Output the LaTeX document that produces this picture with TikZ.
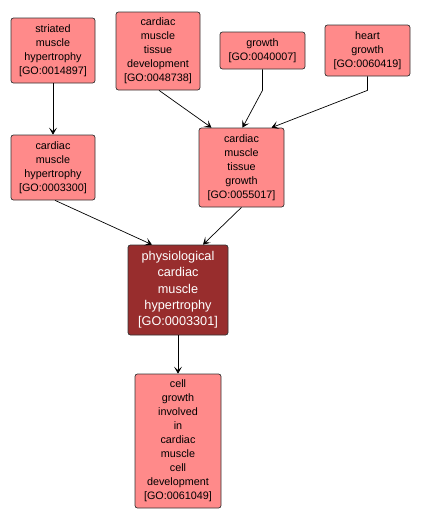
\documentclass[tikz,border=0pt]{standalone}
\usepackage{fontspec}
\setmainfont{Liberation Sans}
\usetikzlibrary{arrows.meta}
\definecolor{termfill}{HTML}{FF8A8A}
\definecolor{mainfill}{HTML}{982D2D}
\tikzset{
  term/.style={draw=black!80, fill=termfill, rounded corners=2.5pt, align=center,
    font=\fontsize{10.8}{14}\selectfont, inner sep=0pt, line width=0.7pt},
  focus/.style={term, fill=mainfill, text=white, font=\fontsize{12.7}{16.3}\selectfont},
  link/.style={-{Stealth[length=7pt,width=8pt,inset=3.5pt]}, line width=0.7pt}
}
\begin{document}
\begin{tikzpicture}[x=1pt, y=-1pt]
      \useasboundingbox (0,0) rectangle (421,522);

      \node[term, minimum width=84, minimum height=65] (smh) at (53,50.5)
        {striated\\muscle\\hypertrophy\\{[GO:0014897]}};
      \node[term, minimum width=84, minimum height=78] (cmtd) at (158,51)
        {cardiac\\muscle\\tissue\\development\\{[GO:0048738]}};
      \node[term, minimum width=85, minimum height=37] (growth) at (262.5,50.5)
        {growth\\{[GO:0040007]}};
      \node[term, minimum width=85, minimum height=51] (hg) at (367.5,50.5)
        {heart\\growth\\{[GO:0060419]}};

      \node[term, minimum width=84, minimum height=65] (cmh) at (53,167.5)
        {cardiac\\muscle\\hypertrophy\\{[GO:0003300]}};
      \node[term, minimum width=85, minimum height=79] (cmtg) at (241.5,167.5)
        {cardiac\\muscle\\tissue\\growth\\{[GO:0055017]}};

      \node[focus, minimum width=100, minimum height=90] (pcmh) at (178,290)
        {physiological\\cardiac\\muscle\\hypertrophy\\{[GO:0003301]}};

      \node[term, minimum width=86, minimum height=134] (cgcm) at (178,441)
        {cell\\growth\\involved\\in\\cardiac\\muscle\\cell\\development\\{[GO:0061049]}};

      \draw[link] (smh) -- (cmh);
      \draw[link] (cmtd.south) ++(1,0) -- ([xshift=-30]cmtg.north);
      \draw[link] (growth.south) -- ++(0,21) -- ([xshift=1]cmtg.north);
      \draw[link] (hg.south) -- ++(0,14) -- ([xshift=30]cmtg.north);
      \draw[link] ([xshift=2]cmh.south) -- ([xshift=-26]pcmh.north);
      \draw[link] (cmtg.south) -- ([xshift=25]pcmh.north);
      \draw[link] (pcmh) -- (cgcm);
    \end{tikzpicture}
\end{document}
